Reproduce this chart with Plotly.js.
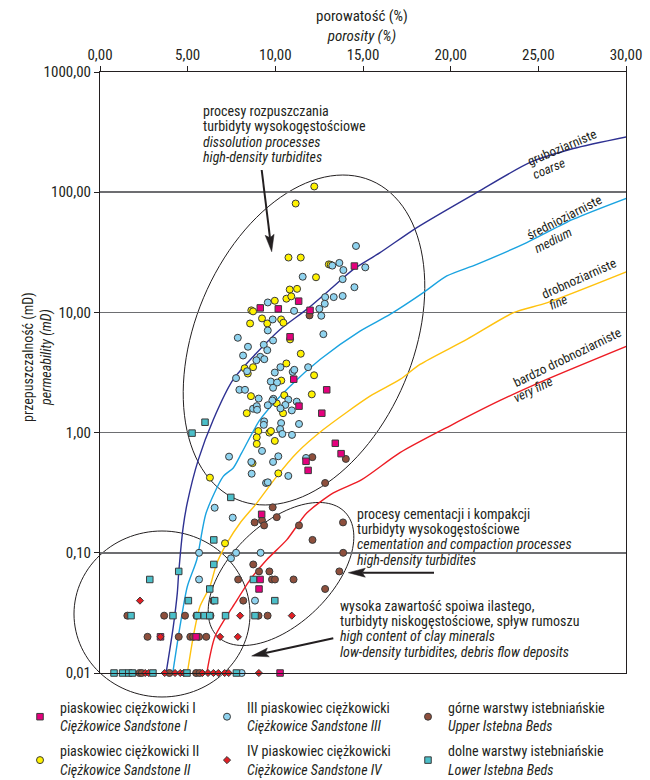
<!DOCTYPE html>
<html><head><meta charset="utf-8">
<script src="https://cdn.plot.ly/plotly-3.0.1.min.js"></script>
<style>html,body{margin:0;padding:0;background:#fff}</style>
</head><body><div id="chart" style="width:650px;height:780px"></div>
<script>
const FONT = "'Liberation Sans Narrow','Arial Narrow','Roboto Condensed','DejaVu Sans Condensed',sans-serif";
const INK = '#231f20';

// ---------- axis ticks ----------
const xTickVals = [0, 5, 10, 15, 20, 25, 30];
const xTickText = ['0,00', '5,00', '10,00', '15,00', '20,00', '25,00', '30,00'];
const yTickVals = [0.01, 0.1, 1, 10, 100, 1000];
const yTickText = ['0,01', '0,10', '1,00', '10,00', '100,00', '1000,00'];

// ---------- series: porosity (%) / permeability (mD) ----------
const s1Name = 'piaskowiec ciężkowicki I<br><i>Ciężkowice Sandstone I</i>';
const s1Por  = [14.51, 11.33, 9.14, 10.17, 11.98, 10.84, 11.05, 12.93, 11.35, 12.65, 13.42, 13.75, 11.75, 11.87, 9.22, 9.13, 9.07, 3.45, 5.48, 10.27];
const s1Perm = [24.3, 12.4, 10.9, 10.7, 10.4, 6.27, 2.78, 2.27, 1.66, 1.45, 0.815, 0.668, 0.577, 0.485, 0.209, 0.06, 0.05, 0.02, 0.02, 0.01];

const s2Name = 'piaskowiec ciężkowicki II<br><i>Ciężkowice Sandstone II</i>';
const s2Por  = [12.22, 11.16, 10.75, 11.45, 13.05, 13.16, 12.32, 10.82, 11.24, 10.63, 10.91, 9.97, 8.63, 8.73, 9.24, 9.54, 10.33, 10.46, 8.56, 10.84, 11.45, 10.63, 8.25, 8.73, 8.43, 12.21, 10.34, 8.61, 10.51, 10.08, 12.08, 8.37, 10.44, 9.03, 8.94, 8.94, 9.66, 9.75, 9.97, 8.70, 10.17, 6.27, 7.13];
const s2Perm = [111.6, 80.5, 28.6, 28.6, 25.1, 24.9, 19.6, 15.5, 15.7, 13.0, 13.6, 12.5, 10.4, 10.2, 8.91, 8.09, 8.74, 8.2, 8.09, 5.96, 4.53, 3.76, 3.43, 3.5, 3.1, 3.0, 2.71, 2.01, 2.05, 1.75, 2.08, 1.45, 1.45, 1.03, 0.914, 0.805, 1.0, 1.03, 0.853, 0.557, 0.458, 0.422, 0.12];

const s3Name = 'III piaskowiec ciężkowicki<br><i>Ciężkowice Sandstone III</i>';
const s3Por  = [14.60, 13.25, 13.65, 13.88, 15.13, 11.56, 13.84, 14.51, 12.84, 13.33, 13.84, 12.82, 9.57, 11.07, 12.62, 12.51, 9.85, 9.57, 12.74, 7.86,
                9.87, 8.44, 9.34, 9.54, 8.16, 9.14, 8.92, 9.37, 10.29, 10.99, 11.08, 11.87, 8.39, 9.97, 7.76, 9.74, 10.10, 9.87, 7.95, 8.27,
                9.05, 9.89, 9.83, 9.57, 10.74, 10.57, 10.29, 11.22, 10.94, 8.73, 8.94, 8.96, 9.36, 9.34, 10.33, 10.27, 10.40, 10.95, 11.35, 9.24,
                7.36, 8.63, 9.87, 10.17, 11.75, 10.74, 9.47, 9.57, 8.65, 6.54, 7.57, 5.65, 7.76, 9.16, 7.47, 5.65, 8.84, 8.08];
const s3Perm = [35.7, 24.5, 25.8, 22.5, 23.7, 19.8, 18.9, 16.2, 13.4, 13.4, 13.7, 11.8, 12.1, 10.3, 9.38, 10.7, 8.74, 7.08, 6.59, 6.15,
                5.84, 5.18, 5.38, 4.85, 4.38, 4.27, 4.0, 4.08, 3.5, 3.2, 3.33, 3.5, 3.24, 3.16, 2.84, 2.66, 2.61, 2.36, 2.27, 2.27,
                1.92, 1.91, 1.85, 1.69, 1.88, 1.70, 1.59, 1.81, 1.53, 1.58, 1.66, 1.55, 1.24, 1.16, 1.20, 1.07, 0.975, 0.957, 1.18, 0.704,
                0.631, 0.570, 0.570, 0.635, 0.615, 0.436, 0.381, 0.386, 0.455, 0.237, 0.196, 0.1, 0.1, 0.1, 0.09, 0.06, 0.04, 0.01];

const s4Name = 'IV piaskowiec ciężkowicki<br><i>Ciężkowice Sandstone IV</i>';
const s4Por  = [2.28, 7.99, 10.94, 6.85, 7.86, 3.45, 2.58, 2.78, 3.69, 4.28, 4.58, 4.77, 5.84, 6.16, 6.47, 6.75, 7.11, 7.34, 9.06];
const s4Perm = [0.04, 0.03, 0.03, 0.02, 0.02, 0.02, 0.01, 0.01, 0.01, 0.01, 0.01, 0.01, 0.01, 0.01, 0.01, 0.01, 0.01, 0.01, 0.01];

const s5Name = 'górne warstwy istebniańskie<br><i>Upper Istebna Beds</i>';
const s5Por  = [11.95, 12.11, 14.02, 12.84, 9.85, 10.08, 8.82, 9.24, 9.36, 11.35, 13.86, 12.12, 13.87, 8.74, 9.07, 9.66, 13.65, 7.88, 9.81, 9.98,
                11.04, 12.84, 6.46, 8.17, 1.56, 3.66, 4.85, 9.04, 9.56, 5.50, 6.30, 2.71, 4.49, 5.15, 5.31, 5.65, 6.06, 2.25, 2.38, 3.96, 5.48, 5.68];
const s5Perm = [9.44, 0.625, 0.604, 0.381, 0.239, 0.198, 0.179, 0.186, 0.169, 0.169, 0.179, 0.128, 0.1, 0.08, 0.07, 0.07, 0.07, 0.06, 0.06, 0.06,
                0.06, 0.05, 0.04, 0.04, 0.03, 0.03, 0.03, 0.03, 0.03, 0.03, 0.03, 0.02, 0.02, 0.02, 0.02, 0.02, 0.02, 0.01, 0.01, 0.01, 0.01, 0.01];

const s6Name = 'dolne warstwy istebniańskie<br><i>Lower Istebna Beds</i>';
const s6Por  = [5.99, 5.25, 7.46, 6.49, 6.49, 4.49, 2.84, 8.75, 6.26, 5.04, 6.54, 9.97, 1.77, 4.16, 5.55, 5.95, 6.26, 7.16, 8.84, 0.80, 1.29, 1.64, 1.85, 3.02, 4.96, 7.78];
const s6Perm = [1.22, 0.99, 0.289, 0.128, 0.08, 0.07, 0.06, 0.06, 0.05, 0.04, 0.04, 0.04, 0.03, 0.03, 0.03, 0.03, 0.03, 0.03, 0.03, 0.01, 0.01, 0.01, 0.01, 0.01, 0.01, 0.01];

// ---------- grain-size reference curves ----------
const coarsePor  = [3.77, 4.18, 4.41, 4.49, 4.75, 4.98, 5.61, 6.46, 7.60, 8.94, 10.27, 11.79, 13.12, 14.45, 15.97, 18.07, 21.49, 24.53, 27.0, 30.14];
const coarsePerm = [0.01, 0.0243, 0.0464, 0.0685, 0.166, 0.261, 0.596, 1.28, 2.77, 4.61, 7.21, 10.6, 15.5, 22.8, 31.4, 50.8, 99.5, 177, 231, 291];
const mediumPor  = [4.15, 4.56, 4.98, 5.52, 6.05, 7.03, 7.60, 8.08, 9.13, 10.84, 12.55, 14.83, 16.54, 18.44, 19.78, 21.49, 24.34, 27.0, 30.14];
const mediumPerm = [0.01, 0.0243, 0.0524, 0.0875, 0.214, 0.432, 0.508, 0.677, 1.28, 2.43, 4.06, 6.99, 9.62, 14.6, 20.1, 25.1, 38.1, 59.6, 90.3];
const finePor    = [4.98, 5.32, 5.70, 6.27, 6.66, 7.23, 7.99, 8.94, 10.08, 11.22, 12.74, 15.40, 17.11, 18.25, 20.92, 23.58, 25.48, 30.14];
const finePerm   = [0.01, 0.0201, 0.0357, 0.0524, 0.082, 0.12, 0.177, 0.259, 0.432, 0.677, 1.06, 2.01, 2.77, 3.69, 5.96, 9.94, 12.0, 22.1];
const vfinePor   = [6.09, 6.56, 7.70, 8.56, 9.51, 10.65, 11.79, 13.31, 14.93, 17.11, 19.97, 22.82, 25.48, 30.05];
const vfinePerm  = [0.01, 0.0201, 0.0381, 0.0596, 0.0875, 0.128, 0.214, 0.315, 0.406, 0.681, 1.14, 1.85, 2.77, 5.24];

// ---------- layout helpers (plot area in page pixels) ----------
const W = 650, H = 780;
const L = 100, R = 626, T = 72, B = 673;
function toPaper(px, py) { return [(px - L) / (R - L), (B - py) / (B - T)]; }
function ellipse(cx, cy, a, b, deg) {
  const th = deg * Math.PI / 180; let d = '';
  for (let i = 0; i <= 120; i++) {
    const t = 2 * Math.PI * i / 120;
    const px = cx + a * Math.cos(th) * Math.cos(t) - b * Math.sin(th) * Math.sin(t);
    const py = cy - (a * Math.sin(th) * Math.cos(t) + b * Math.cos(th) * Math.sin(t));
    const p = toPaper(px, py);
    d += (i ? 'L' : 'M') + p[0].toFixed(5) + ',' + p[1].toFixed(5);
  }
  return {type: 'path', xref: 'paper', yref: 'paper', path: d + 'Z', line: {color: INK, width: 1}, layer: 'below'};
}
function arrow(tx, ty, hx, hy) {
  const dx = hx - tx, dy = hy - ty, len = Math.hypot(dx, dy);
  const ux = dx / len, uy = dy / len, nx = -uy, ny = ux;
  const hl = 17, hw = 4.5;
  const bx = hx - hl * ux, by = hy - hl * uy;
  const notchX = bx + 3 * ux, notchY = by + 3 * uy;
  const p = (x, y) => toPaper(x, y).map(v => v.toFixed(5)).join(',');
  return [
    {type: 'path', xref: 'paper', yref: 'paper', layer: 'above', path: 'M' + p(tx, ty) + 'L' + p(notchX, notchY), line: {color: INK, width: 2}},
    {type: 'path', xref: 'paper', yref: 'paper', layer: 'above', fillcolor: INK, line: {color: INK, width: 0.5},
     path: 'M' + p(hx, hy) + 'L' + p(bx + hw * nx, by + hw * ny) + 'L' + p(notchX, notchY) + 'L' + p(bx - hw * nx, by - hw * ny) + 'Z'}
  ];
}
function label(text, px, py, opts) {
  const p = toPaper(px, py);
  return Object.assign({xref: 'paper', yref: 'paper', x: p[0], y: p[1], text: text, showarrow: false,
    xanchor: 'left', yanchor: 'middle', font: {family: FONT, size: 14, color: INK}, borderpad: 0}, opts || {});
}
const CL = {family: FONT, size: 13, color: INK};
function legendBox(px) {
  return {orientation: 'v', xref: 'container', yref: 'container', x: px / W, y: 1 - 692 / H,
    xanchor: 'left', yanchor: 'top', traceorder: 'grouped', tracegroupgap: 4,
    font: {family: FONT, size: 14, color: INK}, bgcolor: 'rgba(0,0,0,0)'};
}

// ---------- traces ----------
function pts(x, y, name, leg, rank, symbol, fill, size, grp) {
  return {type: 'scatter', mode: 'markers', x: x, y: y, name: name, legend: leg, legendrank: rank, legendgroup: grp, cliponaxis: false,
    marker: {symbol: symbol, size: size, color: fill, line: {color: '#3a3a3a', width: 1}}};
}
function curve(x, y, color) {
  return {type: 'scatter', mode: 'lines', x: x, y: y, showlegend: false, hoverinfo: 'skip',
    line: {color: color, width: 1.4, shape: 'spline', smoothing: 0.7}};
}

const traces = [
  curve(coarsePor, coarsePerm, '#2e3192'),
  curve(mediumPor, mediumPerm, '#1aa3e0'),
  curve(finePor, finePerm, '#ffc20e'),
  curve(vfinePor, vfinePerm, '#ed1c24'),
  pts(s5Por, s5Perm, s5Name, 'legend3', 1, 'circle', '#8e4f3c', 7, 'g5'),
  pts(s2Por, s2Perm, s2Name, 'legend', 2, 'circle', '#fff200', 7, 'g2'),
  pts(s3Por, s3Perm, s3Name, 'legend2', 1, 'circle', '#8fd3ef', 7, 'g3'),
  pts(s1Por, s1Perm, s1Name, 'legend', 1, 'square', '#e5007d', 6.5, 'g1'),
  pts(s4Por, s4Perm, s4Name, 'legend2', 2, 'diamond', '#e31e24', 5.5, 'g4'),
  pts(s6Por, s6Perm, s6Name, 'legend3', 2, 'square', '#4bbfc9', 6.5, 'g6')
];

const shapes = [
  ellipse(304, 340, 173, 109, 67.2),
  ellipse(281, 574, 89, 50, 44),
  ellipse(162, 614, 88, 83, 0)
].concat(arrow(261.7, 170, 271.7, 251.7), arrow(434, 572.7, 348.3, 572.7), arrow(333.3, 638.3, 251.7, 656));

const annotations = [
  label('porowatość (%)<br><i>porosity (%)</i>', 362, 26, {xanchor: 'center', font: {family: FONT, size: 15, color: INK}}),
  label('przepuszczalność (mD)<br><i>permeability (mD)</i>', 37, 357, {xanchor: 'center', textangle: -90}),
  label('procesy rozpuszczania', 202, 111),
  label('turbidyty wysokogęstościowe', 202, 126),
  label('<i>dissolution processes</i>', 202, 141.7),
  label('<i>high-density turbidites</i>', 202, 156.7),
  label('procesy cementacji i kompakcji', 356, 514),
  label('turbidyty wysokogęstościowe', 356, 529.3),
  label('<i>cementation and compaction processes</i>', 356, 544.3),
  label('<i>high-density turbidites</i>', 356, 560),
  label('wysoka zawartość spoiwa ilastego,', 339, 606),
  label('turbidyty niskogęstościowe, spływ rumoszu', 339, 621.3),
  label('<i>high content of clay minerals</i>', 339, 635.7),
  label('<i>low-density turbidites, debris flow deposits</i>', 339, 651.7),
  label('gruboziarniste', 562, 147, {xanchor: 'center', textangle: -23, font: CL}),
  label('<i>coarse</i>', 549, 168.5, {xanchor: 'center', textangle: -23, font: CL}),
  label('średnioziarniste', 564, 217, {xanchor: 'center', textangle: -27, font: CL}),
  label('<i>medium</i>', 552.5, 240.5, {xanchor: 'center', textangle: -27, font: CL}),
  label('drobnoziarniste', 579, 278.5, {xanchor: 'center', textangle: -24, font: CL}),
  label('<i>fine</i>', 557.5, 302, {xanchor: 'center', textangle: -24, font: CL}),
  label('bardzo drobnoziarniste', 567, 357, {xanchor: 'center', textangle: -26, font: CL}),
  label('<i>very fine</i>', 533, 389, {xanchor: 'center', textangle: -26, font: CL})
];

const layout = {
  width: W, height: H,
  margin: {l: L, r: W - R, t: T, b: H - B, autoexpand: false},
  paper_bgcolor: '#fff', plot_bgcolor: '#fff',
  font: {family: FONT, size: 14, color: INK},
  showlegend: true,
  xaxis: {
    range: [0, 30], side: 'top', tickvals: xTickVals, ticktext: xTickText,
    showline: true, mirror: true, linecolor: INK, linewidth: 1, automargin: false,
    ticks: 'outside', ticklen: 5, tickcolor: INK, tickfont: {family: FONT, size: 15, color: INK},
    showgrid: false, zeroline: false
  },
  yaxis: {
    type: 'log', range: [-2, 3], tickvals: yTickVals, ticktext: yTickText,
    showline: true, mirror: true, linecolor: INK, linewidth: 1, automargin: false,
    ticks: 'outside', ticklen: 5, tickcolor: INK, tickfont: {family: FONT, size: 15, color: INK},
    showgrid: true, gridcolor: '#6d6e71', gridwidth: 1.5, zeroline: false
  },
  legend: legendBox(20),
  legend2: legendBox(207),
  legend3: legendBox(408),
  shapes: shapes,
  annotations: annotations
};

Plotly.newPlot('chart', traces, layout, {displayModeBar: false, staticPlot: true});
</script>
</body></html>
